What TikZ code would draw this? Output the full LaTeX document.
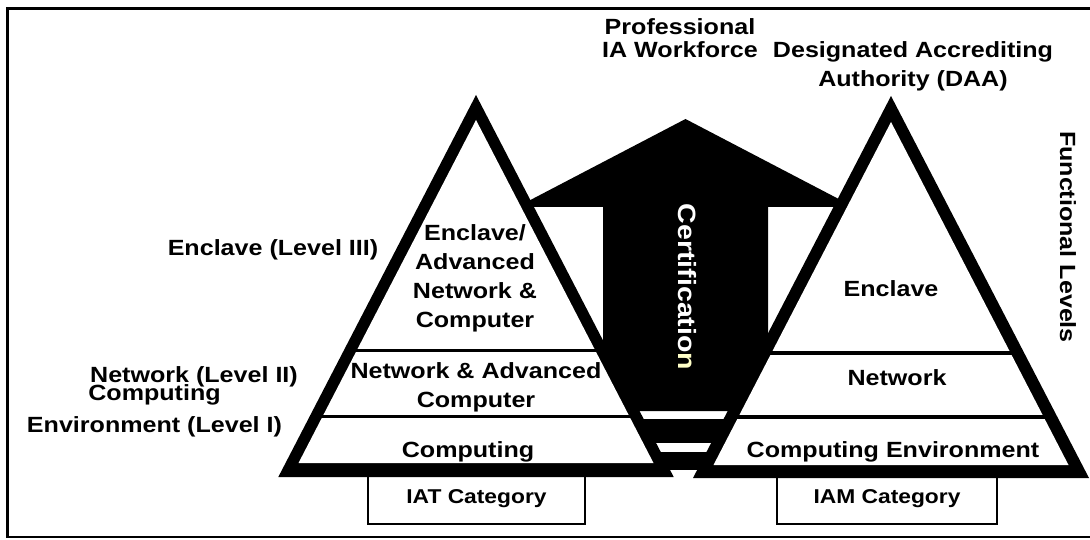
\documentclass[tikz,border=0pt]{standalone}
\usepackage{fontspec}
\newfontfamily\labfont{Liberation Sans}[FakeStretch=1.14]
\definecolor{certyellow}{HTML}{FFFFC8}
\tikzset{
  lab/.style={font=\labfont\bfseries\fontsize{22}{29}\selectfont, inner sep=0pt, align=center, anchor=base},
  smalllab/.style={lab, font=\labfont\bfseries\fontsize{20}{24}\selectfont},
  catbox/.style={draw=black, line width=1.8pt, fill=white},
  layerline/.style={line width=3.5pt, black},
  frameline/.style={line width=2.2pt, black}
}
\begin{document}
\begin{tikzpicture}[x=1pt,y=-1pt]
\useasboundingbox (0,0) rectangle (1090,540);
\fill[white] (0,0) rectangle (1090,540);
% frame
\draw[frameline] (1100,8.5) -- (7.5,8.5) -- (7.5,537) -- (1100,537);
% category boxes
\draw[catbox] (368,470) rectangle (585,524);
\draw[catbox] (777,470) rectangle (997,524);
% certification arrow
\fill[black] (603,411) -- (603,207) -- (517,207) -- (685.5,119) -- (854,207) -- (768,207) -- (768,411) -- cycle;
\fill[black] (603,419) rectangle (768,443);
\fill[black] (603,452) rectangle (768,470);
% left triangle
\fill[black] (476,95) -- (278.3,477) -- (673.7,477) -- cycle;
\fill[white] (476,120) -- (298.5,463) -- (653.5,463) -- cycle;
\draw[layerline] (350,350.5) -- (602,350.5);
\draw[layerline] (310,416.5) -- (642,416.5);
% right triangle
\fill[black] (891,96) -- (693,478) -- (1089,478) -- cycle;
\fill[white] (891,122) -- (713.5,465) -- (1068.5,465) -- cycle;
\draw[layerline] (765,353) -- (1017,353);
\draw[layerline] (730,417) -- (1052,417);
% texts
\node[lab, text=white, rotate=-90, anchor=center, font=\labfont\bfseries\fontsize{25}{30}\selectfont] (cert) at (687,287) {Certificatio\textcolor{certyellow}{n}};
\node[lab, rotate=-90, anchor=center] (func) at (1068,237) {Functional Levels};
\node[lab, font=\labfont\bfseries\fontsize{22}{23}\selectfont] (prof) at (680,58) {Professional\\IA Workforce};
\node[lab, font=\labfont\bfseries\fontsize{22}{29}\selectfont] (daa) at (913,87) {Designated Accrediting\\Authority (DAA)};
\node[lab] (l3) at (273,255) {Enclave (Level III)};
\node[lab] (l2) at (194,382) {Network (Level II)};
\node[lab, font=\labfont\bfseries\fontsize{22}{32}\selectfont] (l1) at (154.5,432) {Computing\\Environment (Level I)};
\node[lab] (iat3) at (475,327) {Enclave/\\Advanced\\Network \&\\Computer};
\node[lab] (iat2) at (476,407) {Network \& Advanced\\Computer};
\node[lab] (iat1) at (468,457) {Computing};
\node[smalllab] (iat) at (476.5,503) {IAT Category};
\node[lab] (iam3) at (891,296) {Enclave};
\node[lab] (iam2) at (897,385) {Network};
\node[lab] (iam1) at (893,457) {Computing Environment};
\node[smalllab] (iam) at (887,503) {IAM Category};
\end{tikzpicture}
\end{document}
